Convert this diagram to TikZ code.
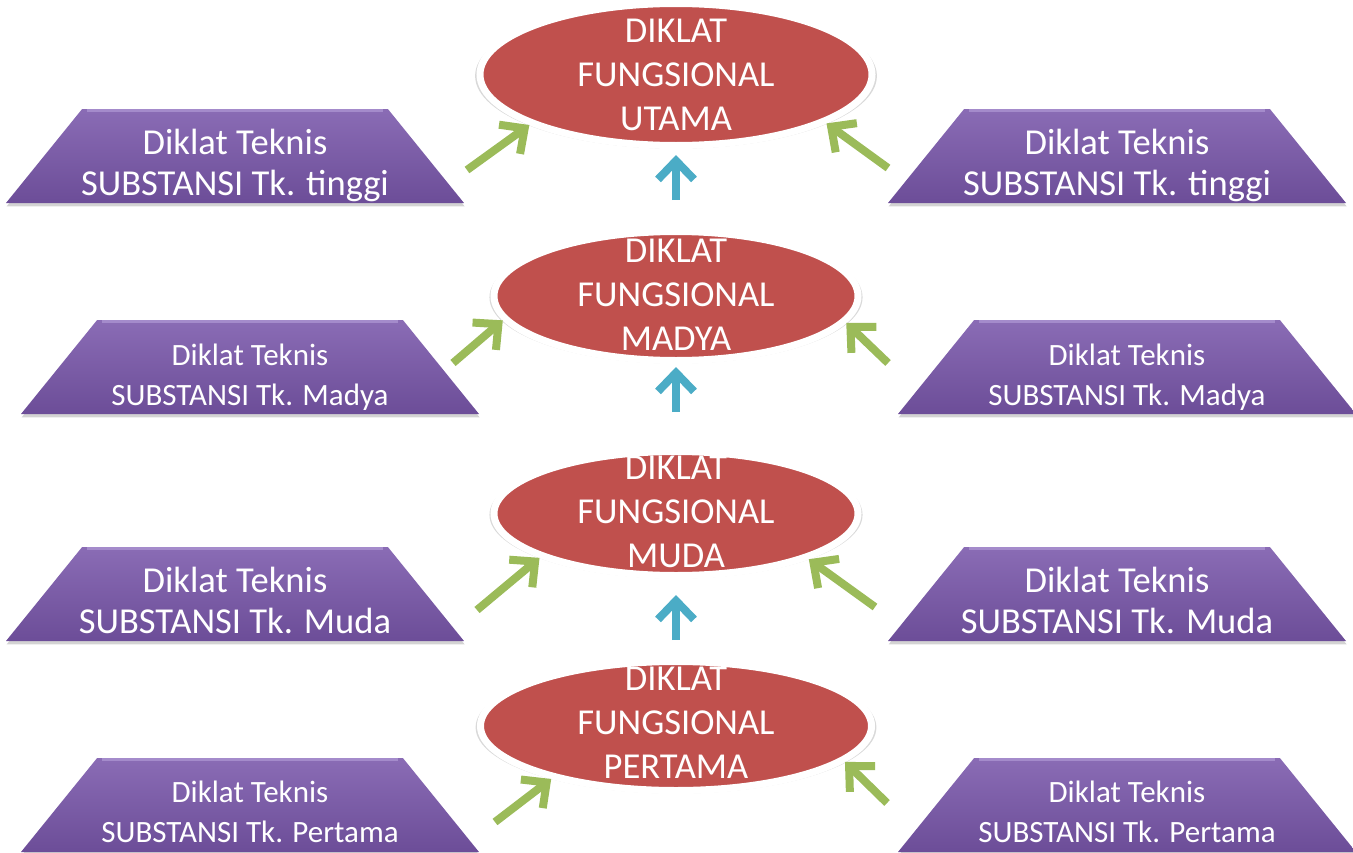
\documentclass[tikz,border=0pt]{standalone}
\usepackage{fontspec}
\setmainfont{Carlito}
\usetikzlibrary{shapes.geometric,arrows.meta,shadows}

\definecolor{levelred}{HTML}{C0504D}
\definecolor{arrowgreen}{HTML}{9BBB59}
\definecolor{arrowblue}{HTML}{4BACC6}
\definecolor{traptop}{HTML}{8A6CB5}
\definecolor{trapbottom}{HTML}{6C4D98}
\definecolor{traplight}{HTML}{A48BCB}

\tikzset{
    level/.style={ellipse, fill=levelred, draw=white, line width=5.25pt, inner sep=0pt,
        drop shadow={opacity=0.3, shadow xshift=0pt, shadow yshift=-1pt, shadow scale=1.025}},
    leveltext/.style={text=white, align=center, inner sep=0pt, font=\fontsize{27.4}{33}\selectfont},
    trap/.style={trapezium, trapezium left angle=51, trapezium right angle=51,
        trapezium stretches body=true, minimum width=343.5pt, inner sep=1pt,
        text height=68.5pt, text depth=0pt,
        top color=traptop, bottom color=trapbottom,
        drop shadow={opacity=0.35, shadow xshift=0.5pt, shadow yshift=-2.5pt}},
    bevel/.style={draw=traplight, line width=2.5pt, shorten <=4pt, shorten >=4pt},
    traptext/.style={text=white, align=center, inner sep=0pt},
    bigtext/.style={font=\fontsize{27.4}{30.75}\selectfont},
    smalltext/.style={font=\fontsize{23.25}{30}\selectfont},
    greenarrow/.style={draw=arrowgreen, line width=6pt, -{Straight Barb[length=14pt,width=27pt]}},
    bluearrow/.style={draw=arrowblue, line width=6pt, -{Straight Barb[length=14pt,width=27pt]}},
}

\begin{document}
\begin{tikzpicture}[x=0.75pt, y=-0.75pt]
    \useasboundingbox (0,0) rectangle (1353,853);

    % trapezoids of the technical courses, left and right
    \foreach \row/\y/\xl/\xr/\ty/\size/\grade in {1/156/235/1117/165/bigtext/tinggi,
            2/367/250/1127/377/smalltext/Madya,
            3/594/235/1117/600/bigtext/Muda,
            4/805/250/1127/812/smalltext/Pertama} {
            \node[trap] (tl\row) at (\xl,\y) {};
            \node[trap] (tr\row) at (\xr,\y) {};
            \draw[bevel] ([yshift=-1.5pt]tl\row.top left corner) -- ([yshift=-1.5pt]tl\row.top right corner);
            \draw[bevel] ([yshift=-1.5pt]tr\row.top left corner) -- ([yshift=-1.5pt]tr\row.top right corner);
            \node[traptext,\size] (ttl\row) at (\xl,\ty) {Diklat Teknis\\SUBSTANSI Tk. \grade};
            \node[traptext,\size] (ttr\row) at (\xr,\ty) {Diklat Teknis\\SUBSTANSI Tk. \grade};
        }

    % levels
    \node[level, minimum width=294pt, minimum height=106.5pt] (utama) at (676,74.5) {};
    \node[level, minimum width=273pt, minimum height=96.75pt] (madya) at (676,296) {};
    \node[level, minimum width=273pt, minimum height=93pt] (muda) at (676,513.5) {};
    \node[level, minimum width=293.25pt, minimum height=96.75pt] (pertama) at (676,726) {};

    \node[leveltext] (utamatext) at (676,75) {DIKLAT\\FUNGSIONAL\\UTAMA};
    \node[leveltext] (madyatext) at (676,295) {DIKLAT\\FUNGSIONAL\\MADYA};
    \node[leveltext] (mudatext) at (676,512) {DIKLAT\\FUNGSIONAL\\MUDA};
    \node[leveltext] (pertamatext) at (676,723) {DIKLAT\\FUNGSIONAL\\PERTAMA};

    % green arrows from both sides
    \foreach \lev/\xa/\ya/\aa/\xb/\yb/\ab in {utama/467/170/199/888/168/342,
            madya/453/363/188/888/363/351,
            muda/477/610/198/875/607/341,
            pertama/495/822/203/887/803/348} {
            \coordinate (\lev l) at (\xa,\ya);
            \coordinate (\lev r) at (\xb,\yb);
            \draw[greenarrow] (\lev l) -- (\lev.\aa);
            \draw[greenarrow] (\lev r) -- (\lev.\ab);
        }

    % blue arrows between levels
    \draw[bluearrow, shorten <=21pt, shorten >=4.5pt] (madya.north) -- (utama.south);
    \draw[bluearrow, shorten <=27pt, shorten >=2.25pt] (muda.north) -- (madya.south);
    \draw[bluearrow, shorten <=13.5pt, shorten >=12pt] (pertama.north) -- (muda.south);
\end{tikzpicture}
\end{document}
